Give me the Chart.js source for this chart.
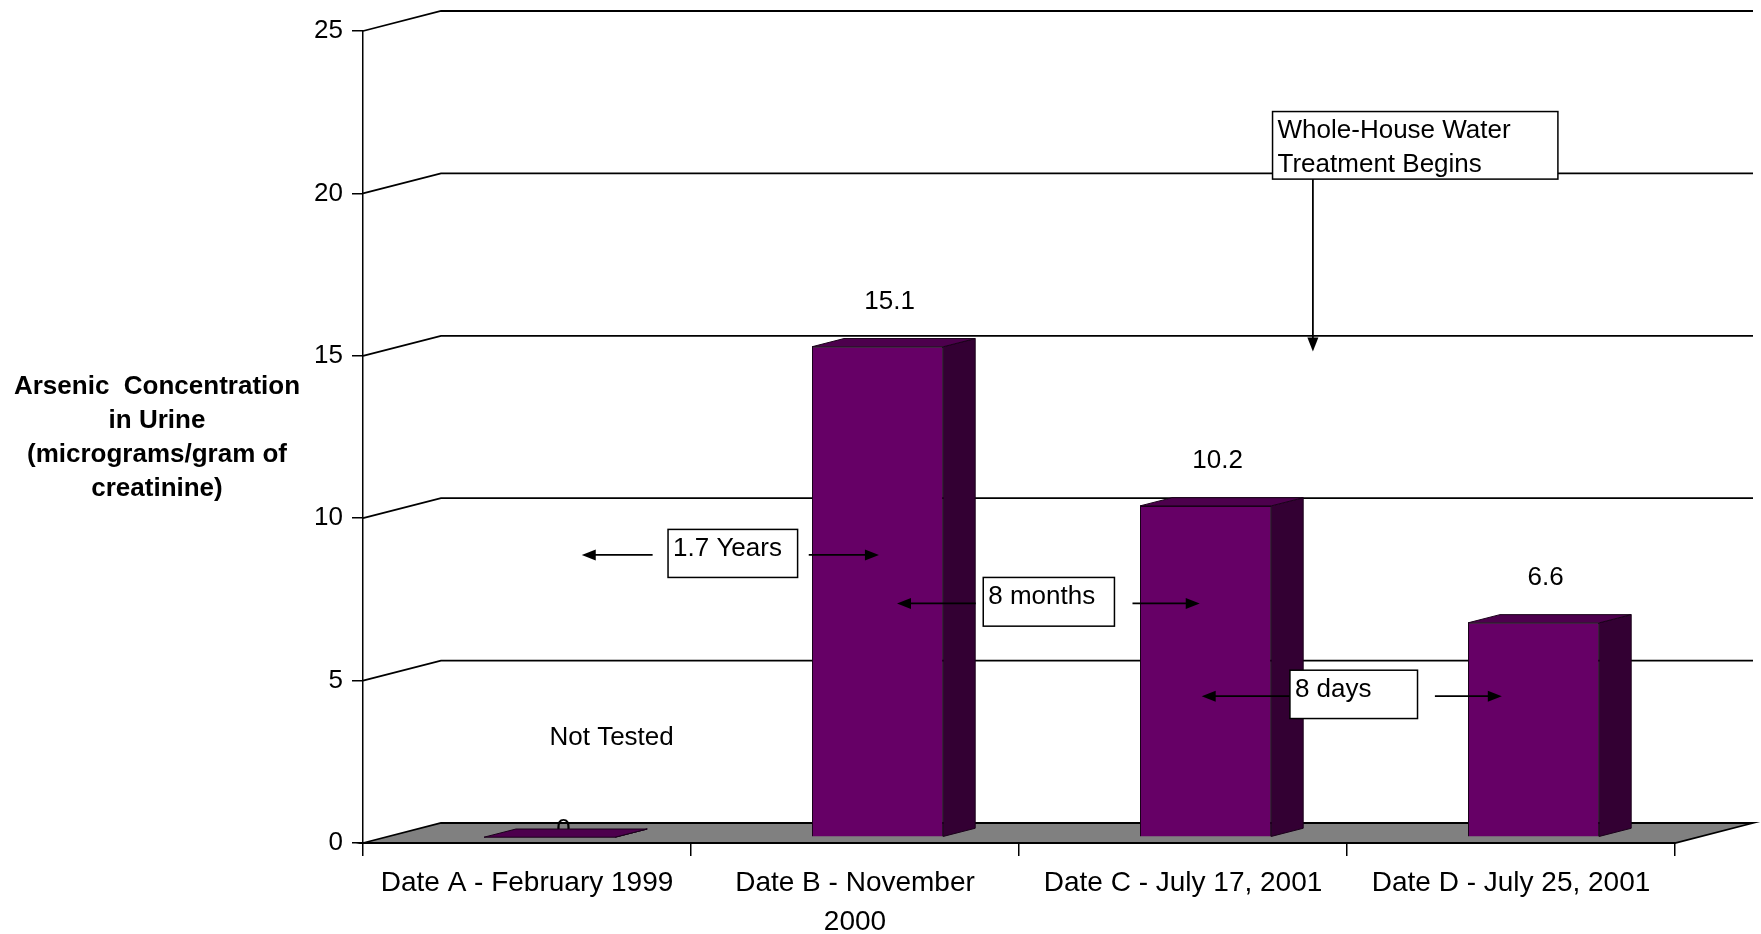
<!DOCTYPE html>
<html>
<head>
<meta charset="utf-8">
<script src="https://cdn.jsdelivr.net/npm/chart.js@4.4.1/dist/chart.umd.min.js"></script>
<style>
  html, body { margin: 0; padding: 0; background: #fff; overflow: hidden; }
  #wrap { width: 1761px; height: 934px; position: relative; }
</style>
</head>
<body>
<div id="wrap"><canvas id="c" width="1761" height="934"></canvas></div>
<script>
// ---- data ----
const categories = [
  'Date A - February 1999',
  ['Date B - November', '2000'],
  'Date C - July 17, 2001',
  'Date D - July 25, 2001'
];
const arsenicValues = [0, 15.1, 10.2, 6.6];
const valueLabels = ['0', '15.1', '10.2', '6.6'];
const yTickValues = [0, 5, 10, 15, 20, 25];
const axisTitleLines = ['Arsenic  Concentration', 'in Urine', '(micrograms/gram of', 'creatinine)'];

// callout boxes: [left category index, top value, right category index, bottom value]
const calloutTexts = [['Whole-House Water', 'Treatment Begins'], ['1.7 Years'], ['8 months'], ['8 days']];
const calloutBoxes = [[2.273, 22.52, 3.143, 20.44], [0.430, 9.655, 0.825, 8.176], [1.391, 8.176, 1.791, 6.676], [2.326, 5.32, 2.715, 3.832]];
// arrows: [from index, from value, to index, to value]
const arrowLines = [
  [2.396, 20.44, 2.396, 15.13],
  [0.383, 8.87, 0.167, 8.87],
  [0.859, 8.87, 1.073, 8.87],
  [1.368, 7.375, 1.128, 7.375],
  [1.846, 7.375, 2.051, 7.375],
  [2.326, 4.519, 2.057, 4.519],
  [2.768, 4.519, 2.972, 4.519]
];
const noteText = 'Not Tested';
const notePosition = [0.258, 3.01];

// ---- styling ----
const FONT = "'Liberation Sans', Arial, sans-serif";
const FRONT = '#660066', SIDE = '#330033', TOP = '#4d004d', EDGE = '#1a001a';
const WALL_DX = 78, WALL_DY = -20;      // depth of the 3D plot box
const BAR_DX = 22.6, BAR_DY = -5.8;     // bars sit in the middle of the depth
const BAR_DEPTH_X = 32, BAR_DEPTH_Y = -8.2;

Chart.defaults.font.family = FONT;
Chart.defaults.color = '#000';

function catX(chart, i) {
  const xs = chart.scales.x;
  const p0 = xs.getPixelForValue(0), p1 = xs.getPixelForValue(1);
  return p0 + (p1 - p0) * i;
}
function valY(chart, v) { return chart.scales.y.getPixelForValue(v); }

function arrow(ctx, x1, y1, x2, y2) {
  const ang = Math.atan2(y2 - y1, x2 - x1), len = 14, hw = 5.5;
  ctx.beginPath();
  ctx.moveTo(x1, y1);
  ctx.lineTo(x2 - Math.cos(ang) * len * 0.8, y2 - Math.sin(ang) * len * 0.8);
  ctx.stroke();
  ctx.beginPath();
  ctx.moveTo(x2, y2);
  ctx.lineTo(x2 - Math.cos(ang) * len - Math.sin(ang) * hw, y2 - Math.sin(ang) * len + Math.cos(ang) * hw);
  ctx.lineTo(x2 - Math.cos(ang) * len + Math.sin(ang) * hw, y2 - Math.sin(ang) * len - Math.cos(ang) * hw);
  ctx.closePath();
  ctx.fill();
}

const depthPlugin = {
  id: 'depth3d',
  beforeDatasetsDraw(chart) {
    const { ctx, chartArea: a } = chart;
    ctx.save();
    ctx.strokeStyle = '#000';
    ctx.lineWidth = 1.8;
    // back wall gridlines with their side-wall connectors
    yTickValues.forEach(v => {
      if (v === 0) return;
      const py = valY(chart, v);
      ctx.beginPath();
      ctx.moveTo(a.left, py);
      ctx.lineTo(a.left + WALL_DX, py + WALL_DY);
      ctx.lineTo(a.right + WALL_DX, py + WALL_DY);
      ctx.stroke();
    });
    // floor
    const p0 = valY(chart, 0);
    ctx.beginPath();
    ctx.moveTo(a.left, p0);
    ctx.lineTo(a.left + WALL_DX, p0 + WALL_DY);
    ctx.lineTo(a.right + WALL_DX, p0 + WALL_DY);
    ctx.lineTo(a.right, p0);
    ctx.closePath();
    ctx.fillStyle = '#808080';
    ctx.fill();
    ctx.stroke();
    // zero-value labels sit on the floor, partly under the bar top
    const meta = chart.getDatasetMeta(0);
    ctx.font = '26px ' + FONT;
    ctx.fillStyle = '#000';
    ctx.textAlign = 'center';
    ctx.textBaseline = 'alphabetic';
    meta.data.forEach((bar, i) => {
      if (arsenicValues[i] !== 0) return;
      ctx.fillText(valueLabels[i], bar.x + BAR_DX + 14, bar.y + BAR_DY);
    });
    ctx.restore();
    ctx.save();
    ctx.translate(BAR_DX, BAR_DY);
  },
  afterDatasetsDraw(chart) {
    const ctx = chart.ctx;
    const meta = chart.getDatasetMeta(0);
    ctx.lineWidth = 1;
    ctx.strokeStyle = EDGE;
    meta.data.forEach(bar => {
      const { x, y, base, width } = bar.getProps(['x', 'y', 'base', 'width'], true);
      const l = x - width / 2, r = x + width / 2;
      // side face
      ctx.beginPath();
      ctx.moveTo(r, y);
      ctx.lineTo(r + BAR_DEPTH_X, y + BAR_DEPTH_Y);
      ctx.lineTo(r + BAR_DEPTH_X, base + BAR_DEPTH_Y);
      ctx.lineTo(r, base);
      ctx.closePath();
      ctx.fillStyle = SIDE;
      ctx.fill();
      ctx.stroke();
      // top face
      ctx.beginPath();
      ctx.moveTo(l, y);
      ctx.lineTo(l + BAR_DEPTH_X, y + BAR_DEPTH_Y);
      ctx.lineTo(r + BAR_DEPTH_X, y + BAR_DEPTH_Y);
      ctx.lineTo(r, y);
      ctx.closePath();
      ctx.fillStyle = TOP;
      ctx.fill();
      ctx.stroke();
    });
    ctx.restore();

    // value labels above the bars
    ctx.save();
    ctx.font = '26px ' + FONT;
    ctx.fillStyle = '#000';
    ctx.textAlign = 'center';
    ctx.textBaseline = 'alphabetic';
    meta.data.forEach((bar, i) => {
      if (arsenicValues[i] === 0) return;
      ctx.fillText(valueLabels[i], bar.x + BAR_DX + 12, bar.y + BAR_DY - 38);
    });
    ctx.restore();
  },
  afterDraw(chart) {
    const ctx = chart.ctx;
    ctx.save();
    // axis title
    ctx.font = 'bold 26px ' + FONT;
    ctx.fillStyle = '#000';
    ctx.textAlign = 'center';
    ctx.textBaseline = 'alphabetic';
    axisTitleLines.forEach((t, i) => ctx.fillText(t, 157, 393.5 + i * 34.2));

    // note
    ctx.font = '26px ' + FONT;
    ctx.fillText(noteText, catX(chart, notePosition[0]), valY(chart, notePosition[1]));

    // arrows
    ctx.strokeStyle = '#000';
    ctx.fillStyle = '#000';
    ctx.lineWidth = 1.8;
    arrowLines.forEach(a => arrow(ctx, catX(chart, a[0]), valY(chart, a[1]), catX(chart, a[2]), valY(chart, a[3])));

    // callout boxes
    ctx.textAlign = 'left';
    calloutBoxes.forEach((b, k) => {
      const x1 = catX(chart, b[0]), y1 = valY(chart, b[1]);
      const x2 = catX(chart, b[2]), y2 = valY(chart, b[3]);
      ctx.fillStyle = '#fff';
      ctx.fillRect(x1, y1, x2 - x1, y2 - y1);
      ctx.strokeStyle = '#000';
      ctx.lineWidth = 1.5;
      ctx.strokeRect(x1, y1, x2 - x1, y2 - y1);
      ctx.fillStyle = '#000';
      calloutTexts[k].forEach((t, i) => ctx.fillText(t, x1 + 5, y1 + 26.7 + i * 33.4));
    });
    ctx.restore();
  }
};

new Chart(document.getElementById('c'), {
  type: 'bar',
  data: {
    labels: categories,
    datasets: [{
      data: arsenicValues,
      backgroundColor: FRONT,
      borderColor: EDGE,
      borderWidth: 1,
      barPercentage: 0.4,
      categoryPercentage: 1.0,
      clip: false
    }]
  },
  options: {
    responsive: false,
    animation: false,
    devicePixelRatio: 1,
    layout: { padding: { left: 0, top: 31, right: 86, bottom: 0 } },
    plugins: { legend: { display: false }, tooltip: { enabled: false } },
    scales: {
      x: {
        offset: true,
        grid: { display: true, offset: true, drawOnChartArea: false, drawTicks: true, tickLength: 13, color: '#000', lineWidth: 1.5 },
        border: { display: true, color: '#000', width: 1.5 },
        ticks: { font: { size: 28, lineHeight: 1.38 }, color: '#000', padding: 8, maxRotation: 0, minRotation: 0, autoSkip: false },
        afterFit(s) { s.height = 91; s.paddingLeft = 0; s.paddingRight = 0; }
      },
      y: {
        min: 0,
        max: 25,
        afterBuildTicks(s) { s.ticks = yTickValues.map(v => ({ value: v })); },
        grid: { display: true, drawOnChartArea: false, drawTicks: true, tickLength: 11, color: '#000', lineWidth: 1.5 },
        border: { display: true, color: '#000', width: 1.5 },
        ticks: { font: { size: 26 }, color: '#000', padding: 9 },
        afterFit(s) { s.width = 363; s.paddingTop = 0; s.paddingBottom = 0; }
      }
    }
  },
  plugins: [depthPlugin]
});
</script>
</body>
</html>
